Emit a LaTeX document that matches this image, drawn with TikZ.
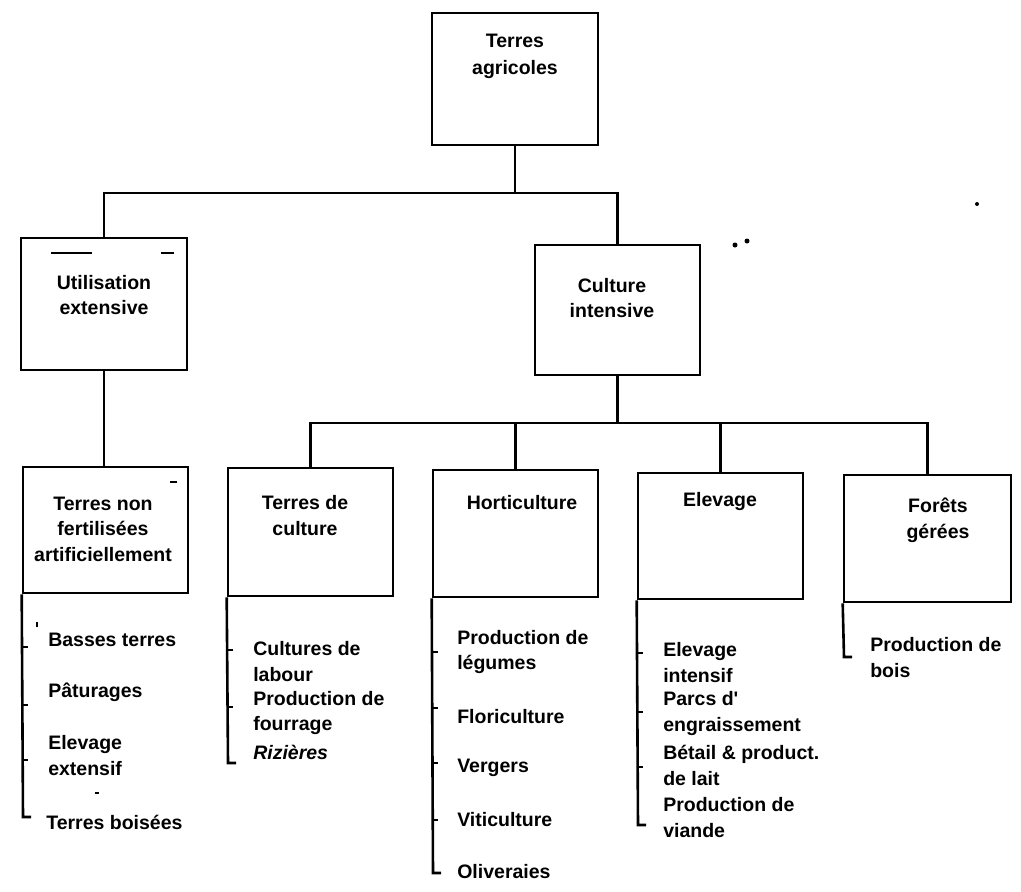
\documentclass[tikz,border=0pt]{standalone}
\usepackage{fontspec}
\setmainfont{Liberation Sans}[Ligatures=TeXOff]
\begin{document}
\begin{tikzpicture}[x=1pt,y=-1pt,
  line width=2.6pt,
  boxnode/.style={draw, rectangle, inner sep=0pt, minimum width=166pt, minimum height=128pt},
  lbl/.style={align=center, inner sep=0pt, font=\fontsize{19.5}{25.6}\selectfont\bfseries},
  item/.style={align=left, anchor=west, inner sep=0pt, font=\fontsize{19.5}{25.6}\selectfont\bfseries},
  tickmark/.style={line width=1.8pt},
  speck/.style={line width=1.4pt}]
\useasboundingbox (0,0) rectangle (1021,892);

% boxes
\node[boxnode, minimum height=132pt] (top) at (515,79) {};
\node[boxnode, minimum height=132pt] (util) at (104,304) {};
\node[boxnode, minimum width=165pt, minimum height=130pt] (cult) at (617.5,310) {};
\node[boxnode, minimum width=165pt, minimum height=126pt] (tnf) at (105.5,530) {};
\node[boxnode, minimum width=165pt] (tdc) at (310.5,532) {};
\node[boxnode, minimum width=165pt, minimum height=127pt] (hort) at (515.5,533.5) {};
\node[boxnode, minimum width=165pt, minimum height=126pt] (elev) at (720.5,536) {};
\node[boxnode, minimum width=167pt, minimum height=127pt] (fore) at (927.5,538.5) {};

% box labels
\node[lbl, font=\fontsize{19.5}{27}\selectfont\bfseries] (tTop) at (515,56.5) {Terres\\agricoles};
\node[lbl] (tUtil) at (104,295) {Utilisation\\extensive};
\node[lbl] (tCult) at (612,298) {Culture\\intensive};
\node[lbl] (tTnf) at (103,529) {Terres non\\fertilisées\\artificiellement};
\node[lbl] (tTdc) at (305,515.5) {Terres de\\culture};
\node[lbl] (tHort) at (522,503) {Horticulture};
\node[lbl] (tElev) at (720,501) {Elevage};
\node[lbl] (tFore) at (938,520) {Forêts\\gérées};

% connectors
\coordinate (bus1) at (515,193);
\coordinate (bus2) at (617.5,423);
\draw (top.south) -- (bus1);
\draw (util.north) |- (bus1) -| (cult.north);
\draw (util.south) -- (util.south |- tnf.north);
\draw (cult.south) -- (bus2);
\draw (tdc.north) |- (bus2) -| (fore.north);
\draw (hort.north) -- (hort.north |- bus2);
\draw (elev.north) -- (elev.north |- bus2);

% list brackets
\coordinate (eTnf) at (23,817);
\coordinate (eTdc) at (228,763);
\coordinate (eHort) at (433,873);
\coordinate (eElev) at (638,825);
\coordinate (eFore) at (844,657);
\draw (tnf.south west) -- (eTnf) -- ++(8,0);
\draw (tdc.south west) -- (eTdc) -- ++(8,0);
\draw (hort.south west) -- (eHort) -- ++(8,0);
\draw (elev.south west) -- (eElev) -- ++(8,0);
\draw (fore.south west) -- (eFore) -- ++(8,0);
\foreach \y in {647,705,760} \draw[tickmark] (tnf.south west |- 0,\y) -- ++(6,0);
\foreach \y in {650,707} \draw[tickmark] (tdc.south west |- 0,\y) -- ++(6,0);
\foreach \y in {652,708,763,820} \draw[tickmark] (hort.south west |- 0,\y) -- ++(6,0);
\foreach \y in {653,712,767} \draw[tickmark] (elev.south west |- 0,\y) -- ++(6,0);

% list items
\node[item] (a1) at (47,640) {Basses terres};
\node[item] (a2) at (47,692) {Pâturages};
\node[item] (a3) at (47,755.5) {Elevage\\extensif};
\node[item] (a4) at (45,822) {Terres boisées};

\node[item] (b1) at (252,661.5) {Cultures de\\labour};
\node[item] (b2) at (252,713) {Production de\\fourrage};
\node[item] (b3) at (252,752) {\itshape Rizières};

\node[item] (c1) at (456,652) {Production de\\légumes};
\node[item] (c2) at (456,717) {Floriculture};
\node[item] (c3) at (456,768) {Vergers};
\node[item] (c4) at (456,820) {Viticulture};
\node[item] (c5) at (456,872) {Oliveraies};

\node[item] (d1) at (662,662.5) {Elevage\\intensif};
\node[item] (d2) at (662,713.5) {Parcs d'\\engraissement};
\node[item] (d3) at (662,765.5) {Bétail \& product.\\de lait};
\node[item] (d4) at (662,817.5) {Production de\\viande};

\node[item] (f1) at (869,657.5) {Production de\\bois};

% scan specks
\draw[speck] (51,253) -- (92,253);
\draw[speck] (161,253) -- (174,253);
\draw[speck] (170,482) -- (177,482);
\draw[speck] (95,793) -- (99,793);
\draw[speck] (37,622) -- (37,627);
\fill (735,245) circle (2.5pt);
\fill (747,241) circle (2.5pt);
\fill (977,204) circle (2pt);
\end{tikzpicture}
\end{document}
